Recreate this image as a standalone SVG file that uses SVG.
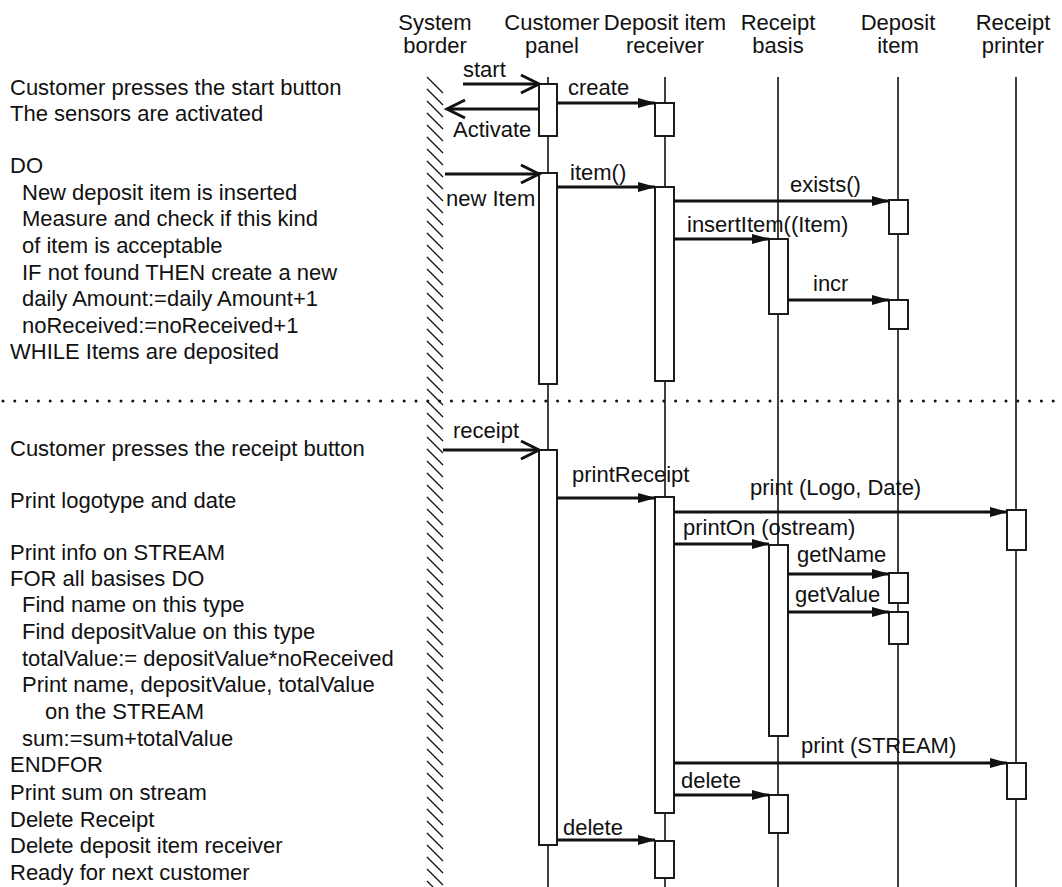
<svg xmlns="http://www.w3.org/2000/svg" width="1062" height="887" viewBox="0 0 1062 887">
<style>
text{font-family:"Liberation Sans",Arial,Helvetica,sans-serif;font-size:22px;fill:#111}
.hd{text-anchor:middle}
.life{stroke:#111;stroke-width:1.6;fill:none}
.act{fill:#fff;stroke:#111;stroke-width:1.9}
.msg{stroke:#111;stroke-width:3.2;fill:none;marker-end:url(#fill)}
.ext{stroke:#111;stroke-width:3.2;fill:none;marker-end:url(#open)}
.hatch{stroke:#111;stroke-width:1.3;fill:none}
.sep{stroke:#111;stroke-width:3;stroke-linecap:round;stroke-dasharray:0 11.8;fill:none}
</style>
<defs>
<marker id="fill" markerUnits="userSpaceOnUse" markerWidth="18" markerHeight="10" refX="17" refY="5" orient="auto" overflow="visible">
<path d="M0,0 L18,5 L0,10 z" fill="#111"/>
</marker>
<marker id="open" markerUnits="userSpaceOnUse" markerWidth="20" markerHeight="20" refX="18" refY="9" orient="auto" overflow="visible">
<path d="M0,0 L18,9 L0,18" fill="none" stroke="#111" stroke-width="3"/>
</marker>
</defs>
<rect width="1062" height="887" fill="#fff"/>

<g id="notes">
<text x="10" y="95">Customer presses the start button</text>
<text x="10" y="121">The sensors are activated</text>
<text x="10" y="173">DO</text>
<text x="22" y="200">New deposit item is inserted</text>
<text x="22" y="226">Measure and check if this kind</text>
<text x="22" y="253">of item is acceptable</text>
<text x="22" y="280">IF not found THEN create a new</text>
<text x="22" y="306">daily Amount:=daily Amount+1</text>
<text x="22" y="333">noReceived:=noReceived+1</text>
<text x="10" y="359">WHILE Items are deposited</text>
<text x="10" y="456">Customer presses the receipt button</text>
<text x="10" y="508">Print logotype and date</text>
<text x="10" y="560">Print info on STREAM</text>
<text x="10" y="586">FOR all basises DO</text>
<text x="22" y="612">Find name on this type</text>
<text x="22" y="639">Find depositValue on this type</text>
<text x="22" y="666">totalValue:= depositValue*noReceived</text>
<text x="22" y="692">Print name, depositValue, totalValue</text>
<text x="45" y="719">on the STREAM</text>
<text x="22" y="746">sum:=sum+totalValue</text>
<text x="10" y="772">ENDFOR</text>
<text x="10" y="800">Print sum on stream</text>
<text x="10" y="827">Delete Receipt</text>
<text x="10" y="853">Delete deposit item receiver</text>
<text x="10" y="880">Ready for next customer</text>
</g>

<path class="sep" d="M3 401 H1062"/>

<g id="system-border">
<text class="hd" x="435" y="30">System</text>
<text class="hd" x="435" y="53">border</text>
<path class="hatch" d="M427 77l16 16m-16-4l16 16m-16-4l16 16m-16-4l16 16m-16-4l16 16m-16-4l16 16m-16-4l16 16m-16-4l16 16m-16-4l16 16m-16-4l16 16m-16-4l16 16m-16-4l16 16m-16-4l16 16m-16-4l16 16m-16-4l16 16m-16-4l16 16m-16-4l16 16m-16-4l16 16m-16-4l16 16m-16-4l16 16m-16-4l16 16m-16-4l16 16m-16-4l16 16m-16-4l16 16m-16-4l16 16m-16-4l16 16m-16-4l16 16m-16-4l16 16m-16-4l16 16m-16-4l16 16m-16-4l16 16m-16-4l16 16m-16-4l16 16m-16-4l16 16m-16-4l16 16m-16-4l16 16m-16-4l16 16m-16-4l16 16m-16-4l16 16m-16-4l16 16m-16-4l16 16m-16-4l16 16m-16-4l16 16m-16-4l16 16m-16-4l16 16m-16-4l16 16m-16-4l16 16m-16-4l16 16m-16-4l16 16m-16-4l16 16m-16-4l16 16m-16-4l16 16m-16-4l16 16m-16-4l16 16m-16-4l16 16m-16-4l16 16m-16-4l16 16m-16-4l16 16m-16-4l16 16m-16-4l16 16m-16-4l16 16m-16-4l16 16m-16-4l16 16m-16-4l16 16m-16-4l16 16m-16-4l16 16m-16-4l16 16m-16-4l16 16m-16-4l16 16"/>
</g>

<g id="customer-panel">
<text class="hd" x="552" y="30">Customer</text>
<text class="hd" x="552" y="53">panel</text>
<path class="life" d="M548 77 V887"/>
<rect class="act" x="539" y="84" width="18" height="52"/>
<rect class="act" x="539" y="173" width="18" height="211"/>
<rect class="act" x="539" y="450" width="18" height="395"/>
</g>

<g id="deposit-item-receiver">
<text class="hd" x="665" y="30">Deposit item</text>
<text class="hd" x="665" y="53">receiver</text>
<path class="life" d="M665 77 V887"/>
<rect class="act" x="655" y="103" width="19" height="33"/>
<rect class="act" x="655" y="187" width="19" height="194"/>
<rect class="act" x="655" y="497" width="19" height="316"/>
<rect class="act" x="655" y="841" width="19" height="37"/>
</g>

<g id="receipt-basis">
<text class="hd" x="778" y="30">Receipt</text>
<text class="hd" x="778" y="53">basis</text>
<path class="life" d="M778 77 V887"/>
<rect class="act" x="769" y="239" width="19" height="75"/>
<rect class="act" x="769" y="545" width="19" height="191"/>
<rect class="act" x="769" y="795" width="19" height="38"/>
</g>

<g id="deposit-item">
<text class="hd" x="898" y="30">Deposit</text>
<text class="hd" x="898" y="53">item</text>
<path class="life" d="M898 77 V887"/>
<rect class="act" x="889" y="200" width="19" height="34"/>
<rect class="act" x="889" y="300" width="19" height="29"/>
<rect class="act" x="889" y="573" width="19" height="30"/>
<rect class="act" x="889" y="612" width="19" height="32"/>
</g>

<g id="receipt-printer">
<text class="hd" x="1013" y="30">Receipt</text>
<text class="hd" x="1013" y="53">printer</text>
<path class="life" d="M1016 77 V887"/>
<rect class="act" x="1007" y="510" width="19" height="40"/>
<rect class="act" x="1007" y="763" width="19" height="36"/>
</g>

<g id="connectors">
<path class="ext" d="M463 84 H539"/>
<text x="463" y="77">start</text>
<path class="msg" d="M557 103 H655"/>
<text x="568" y="95">create</text>
<path class="ext" d="M539 109 H447"/>
<text x="453" y="137">Activate</text>
<path class="ext" d="M445 174 H539"/>
<text x="446" y="206">new Item</text>
<path class="msg" d="M557 187 H655"/>
<text x="570" y="180">item()</text>
<path class="msg" d="M674 201 H889"/>
<text x="790" y="192">exists()</text>
<path class="msg" d="M674 239 H769"/>
<text x="687" y="232">insertItem((Item)</text>
<path class="msg" d="M788 300 H889"/>
<text x="813" y="291">incr</text>
<path class="ext" d="M443 450 H539"/>
<text x="453" y="438">receipt</text>
<path class="msg" d="M557 498 H655"/>
<text x="572" y="482">printReceipt</text>
<path class="msg" d="M674 512 H1007"/>
<text x="750" y="495">print (Logo, Date)</text>
<path class="msg" d="M674 544 H769"/>
<text x="683" y="535">printOn (ostream)</text>
<path class="msg" d="M788 574 H889"/>
<text x="797" y="562">getName</text>
<path class="msg" d="M788 612 H889"/>
<text x="795" y="602">getValue</text>
<path class="msg" d="M674 763 H1007"/>
<text x="801" y="753">print (STREAM)</text>
<path class="msg" d="M674 795 H769"/>
<text x="681" y="788">delete</text>
<path class="msg" d="M557 840 H655"/>
<text x="563" y="835">delete</text>
</g>
</svg>
